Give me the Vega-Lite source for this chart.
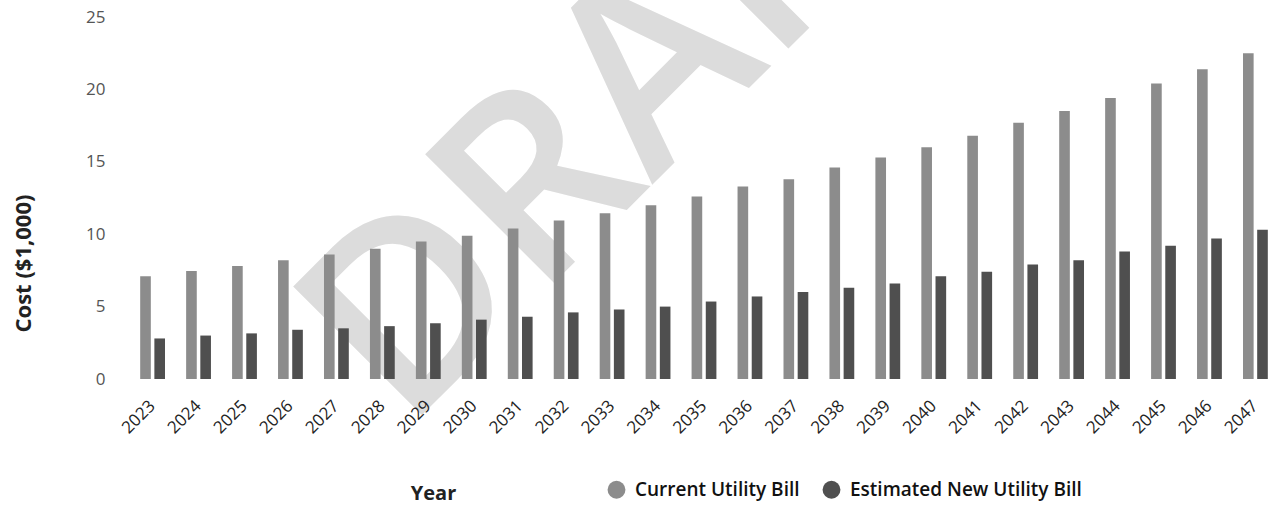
{
  "$schema": "https://vega.github.io/schema/vega-lite/v6.json",
  "width": 1146,
  "height": 362,
  "autosize": {"type": "none"},
  "padding": {"left": 131, "top": 17, "right": 0, "bottom": 129},
  "background": "white",
  "config": {"view": {"stroke": null}, "font": "Open Sans"},
  "layer": [
    {
      "data": {"values": [{"label": "DRAFT"}]},
      "mark": {"type": "text", "fontSize": 255, "fontWeight": 600, "angle": -45, "color": "#dcdcdc", "align": "left", "baseline": "alphabetic"},
      "encoding": {
        "x": {"datum": "2028", "type": "ordinal", "bandPosition": 1.41},
        "y": {"datum": -3.66, "type": "quantitative", "scale": {"domain": [0, 25], "nice": false}},
        "text": {"field": "label"}
      }
    },
    {
      "data": {"values": [
        {"year": "2023", "series": "Current Utility Bill", "cost": 7.1},
        {"year": "2023", "series": "Estimated New Utility Bill", "cost": 2.8},
        {"year": "2024", "series": "Current Utility Bill", "cost": 7.45},
        {"year": "2024", "series": "Estimated New Utility Bill", "cost": 3.0},
        {"year": "2025", "series": "Current Utility Bill", "cost": 7.8},
        {"year": "2025", "series": "Estimated New Utility Bill", "cost": 3.15},
        {"year": "2026", "series": "Current Utility Bill", "cost": 8.2},
        {"year": "2026", "series": "Estimated New Utility Bill", "cost": 3.4},
        {"year": "2027", "series": "Current Utility Bill", "cost": 8.6},
        {"year": "2027", "series": "Estimated New Utility Bill", "cost": 3.5},
        {"year": "2028", "series": "Current Utility Bill", "cost": 9.0},
        {"year": "2028", "series": "Estimated New Utility Bill", "cost": 3.65},
        {"year": "2029", "series": "Current Utility Bill", "cost": 9.5},
        {"year": "2029", "series": "Estimated New Utility Bill", "cost": 3.85},
        {"year": "2030", "series": "Current Utility Bill", "cost": 9.9},
        {"year": "2030", "series": "Estimated New Utility Bill", "cost": 4.1},
        {"year": "2031", "series": "Current Utility Bill", "cost": 10.4},
        {"year": "2031", "series": "Estimated New Utility Bill", "cost": 4.3},
        {"year": "2032", "series": "Current Utility Bill", "cost": 10.95},
        {"year": "2032", "series": "Estimated New Utility Bill", "cost": 4.6},
        {"year": "2033", "series": "Current Utility Bill", "cost": 11.45},
        {"year": "2033", "series": "Estimated New Utility Bill", "cost": 4.8},
        {"year": "2034", "series": "Current Utility Bill", "cost": 12.0},
        {"year": "2034", "series": "Estimated New Utility Bill", "cost": 5.0},
        {"year": "2035", "series": "Current Utility Bill", "cost": 12.6},
        {"year": "2035", "series": "Estimated New Utility Bill", "cost": 5.35},
        {"year": "2036", "series": "Current Utility Bill", "cost": 13.3},
        {"year": "2036", "series": "Estimated New Utility Bill", "cost": 5.7},
        {"year": "2037", "series": "Current Utility Bill", "cost": 13.8},
        {"year": "2037", "series": "Estimated New Utility Bill", "cost": 6.0},
        {"year": "2038", "series": "Current Utility Bill", "cost": 14.6},
        {"year": "2038", "series": "Estimated New Utility Bill", "cost": 6.3},
        {"year": "2039", "series": "Current Utility Bill", "cost": 15.3},
        {"year": "2039", "series": "Estimated New Utility Bill", "cost": 6.6},
        {"year": "2040", "series": "Current Utility Bill", "cost": 16.0},
        {"year": "2040", "series": "Estimated New Utility Bill", "cost": 7.1},
        {"year": "2041", "series": "Current Utility Bill", "cost": 16.8},
        {"year": "2041", "series": "Estimated New Utility Bill", "cost": 7.4},
        {"year": "2042", "series": "Current Utility Bill", "cost": 17.7},
        {"year": "2042", "series": "Estimated New Utility Bill", "cost": 7.9},
        {"year": "2043", "series": "Current Utility Bill", "cost": 18.5},
        {"year": "2043", "series": "Estimated New Utility Bill", "cost": 8.2},
        {"year": "2044", "series": "Current Utility Bill", "cost": 19.4},
        {"year": "2044", "series": "Estimated New Utility Bill", "cost": 8.8},
        {"year": "2045", "series": "Current Utility Bill", "cost": 20.4},
        {"year": "2045", "series": "Estimated New Utility Bill", "cost": 9.2},
        {"year": "2046", "series": "Current Utility Bill", "cost": 21.4},
        {"year": "2046", "series": "Estimated New Utility Bill", "cost": 9.7},
        {"year": "2047", "series": "Current Utility Bill", "cost": 22.5},
        {"year": "2047", "series": "Estimated New Utility Bill", "cost": 10.3}
      ]},
      "mark": {"type": "bar"},
      "encoding": {
        "x": {
          "field": "year", "type": "ordinal",
          "scale": {"paddingInner": 0.46, "paddingOuter": 0.2},
          "axis": {"title": "Year", "zindex": 1, "labelAngle": -45, "labelFontSize": 17, "labelColor": "#222", "domain": false, "ticks": false, "labelPadding": 24,
                   "titleFontSize": 20, "titleFontWeight": "bold", "titleColor": "#222", "titleX": 302, "titleY": 114, "titleBaseline": "middle", "titleAlign": "center"}
        },
        "xOffset": {"field": "series", "type": "nominal", "scale": {"domain": ["Current Utility Bill", "Estimated New Utility Bill"], "paddingInner": 0.25}},
        "y": {
          "field": "cost", "type": "quantitative", "stack": null,
          "scale": {"domain": [0, 25], "nice": false},
          "axis": {"values": [0, 5, 10, 15, 20, 25], "zindex": 1, "grid": false, "domain": false, "ticks": false, "labelPadding": 26, "labelFontSize": 17, "labelColor": "#555",
                   "title": "Cost ($1,000)", "titleFontSize": 22, "titleFontWeight": "bold", "titleColor": "#222", "titleX": -108, "titleY": 246, "titleBaseline": "middle", "titleAlign": "center"}
        },
        "color": {
          "field": "series", "type": "nominal",
          "scale": {"domain": ["Current Utility Bill", "Estimated New Utility Bill"], "range": ["#8c8c8c", "#4f4f4f"]},
          "legend": {"orient": "none", "legendX": 476, "legendY": 463, "direction": "horizontal", "title": null, "symbolType": "circle", "symbolSize": 320, "symbolStrokeWidth": 0, "labelFontSize": 19, "labelFontWeight": 600, "labelColor": "#111", "labelLimit": 400, "labelOffset": 9, "columnPadding": 22}
        }
      }
    }
  ]
}
